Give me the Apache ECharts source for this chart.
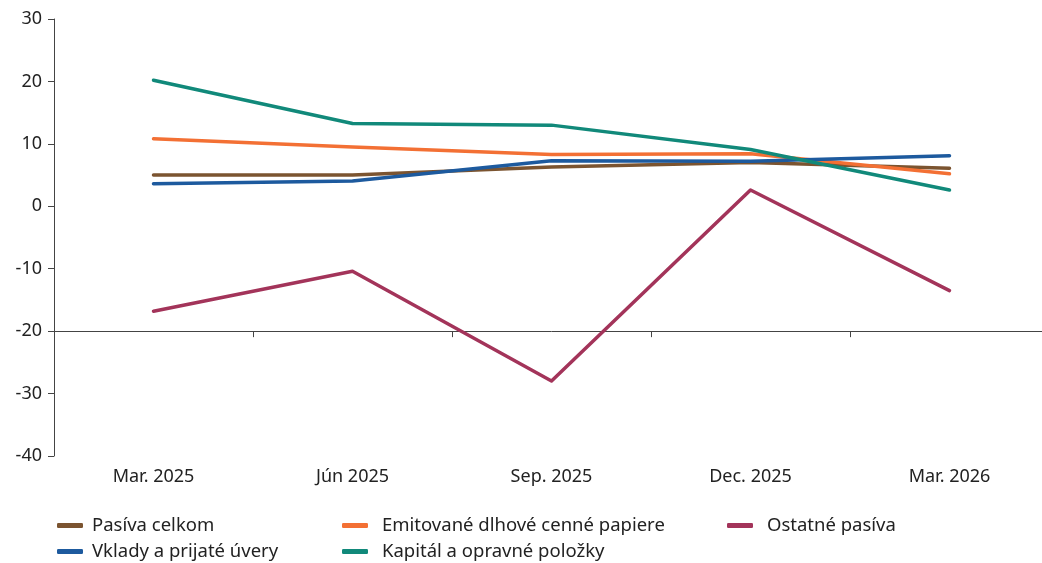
<!DOCTYPE html>
<html>
<head>
<meta charset="utf-8">
<script src="https://cdn.jsdelivr.net/npm/echarts@6/dist/echarts.min.js"></script>
<style>html,body{margin:0;padding:0;background:#fff;overflow:hidden}#c{width:1052px;height:563px}</style>
</head>
<body>
<div id="c"></div>
<script>
const categories = ['Mar. 2025', 'Jún 2025', 'Sep. 2025', 'Dec. 2025', 'Mar. 2026'];
const seriesNames = ['Pasíva celkom', 'Emitované dlhové cenné papiere', 'Ostatné pasíva', 'Vklady a prijaté úvery', 'Kapitál a opravné položky'];
const pasivaCelkom = [5.0, 5.0, 6.3, 7.0, 6.1];
const emitovane = [10.8, 9.5, 8.3, 8.4, 5.2];
const ostatne = [-16.8, -10.4, -28.0, 2.6, -13.5];
const vklady = [3.6, 4.05, 7.3, 7.2, 8.1];
const kapital = [20.2, 13.25, 13.0, 9.1, 2.6];
const colors = ['#7b5430', '#f37034', '#a3345a', '#1d5a9e', '#11897a'];
const yMin = -40, yMax = 30, yStep = 10;
const xAxisAt = -20;

const chart = echarts.init(document.getElementById('c'));
const values = [pasivaCelkom, emitovane, ostatne, vklady, kapital];
const font = '"Noto Sans", "Open Sans", sans-serif';
function legendAt(left, names, pad) {
  return {
    left: left, data: names,
    orient: 'vertical', top: 516, height: 47, padding: 0, itemWidth: 26, itemHeight: 5, itemGap: 7,
    icon: 'roundRect',
    textStyle: { fontFamily: font, fontSize: 18.5, color: '#222', padding: [0, 0, 0, pad] }
  };
}
chart.setOption({
  animation: false,
  color: colors,
  grid: { left: 54, top: 19, width: 995, height: 437 },
  legend: [
    legendAt(57, [seriesNames[0], seriesNames[3]], 4),
    legendAt(342, [seriesNames[1], seriesNames[4]], 9),
    legendAt(727, [seriesNames[2]], 9)
  ],
  xAxis: [
    { type: 'category', data: categories, boundaryGap: true,
      axisLine: { show: true, onZero: true, onZeroAxisIndex: 1, lineStyle: { color: '#444', width: 1 } },
      axisTick: { show: true, length: 6, lineStyle: { color: '#444' } },
      axisLabel: { show: false }, splitLine: { show: false } },
    { type: 'category', data: categories, position: 'bottom', boundaryGap: true,
      axisLine: { show: false }, axisTick: { show: false },
      axisLabel: { show: true, margin: 12, fontFamily: font, fontSize: 18, color: '#222' },
      splitLine: { show: false } }
  ],
  yAxis: [
    { type: 'value', min: yMin, max: yMax, interval: yStep,
      axisLine: { show: true, lineStyle: { color: '#444' } },
      axisTick: { show: true, length: 6, lineStyle: { color: '#444' } },
      axisLabel: { margin: 12, fontFamily: font, fontSize: 18, color: '#222' },
      splitLine: { show: false } },
    { type: 'value', min: yMin - xAxisAt, max: yMax - xAxisAt, show: false, splitLine: { show: false } }
  ],
  series: seriesNames.map((n, i) => ({
    name: n, type: 'line', data: values[i], xAxisIndex: 0, yAxisIndex: 0,
    symbol: 'none', lineStyle: { width: 3.5, color: colors[i], cap: 'round', join: 'round' },
    itemStyle: { color: colors[i] }
  }))
});
</script>
</body>
</html>
